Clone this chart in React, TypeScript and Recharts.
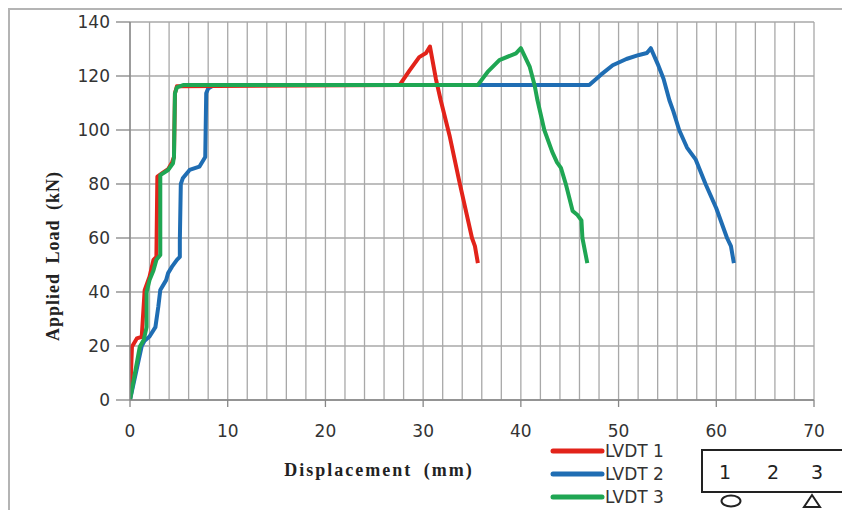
import { LineChart, Line, XAxis, YAxis, CartesianGrid } from "recharts";

// tick values
const xTicks = [
  0, 2, 4, 6, 8, 10, 12, 14, 16, 18, 20, 22, 24, 26, 28, 30, 32, 34, 36, 38, 40,
  42, 44, 46, 48, 50, 52, 54, 56, 58, 60, 62, 64, 66, 68, 70,
];
const yTicks = [0, 20, 40, 60, 80, 100, 120, 140];

// LVDT 1 (red)
const lvdt1Disp = [
  0, 0.2, 0.7, 1.2, 1.5, 2.0, 2.4, 2.7, 2.8, 3.3, 3.9, 4.3, 4.5, 4.6, 4.8, 27.6,
  28.6, 29.6, 30.3, 30.7, 31.3, 31.8, 32.7, 33.7, 35.0, 35.3, 35.6,
];
const lvdt1Load = [
  0, 19.7, 22.8, 23.4, 40.7, 45.7, 51.9, 53, 82.7, 84, 85.5, 88, 90, 113.6, 116.2,
  116.7, 122, 127, 128.5, 130.9, 119, 111, 98, 81, 60, 57, 50.7,
];

// LVDT 2 (blue)
const lvdt2Disp = [
  0, 1.2, 1.5, 2.0, 2.6, 2.9, 3.1, 3.7, 3.9, 4.3, 4.8, 5.1, 5.1, 5.2, 5.4, 6.1,
  7.1, 7.7, 7.8, 8.0, 8.6, 47.0, 48.2, 49.4, 50.8, 52.1, 52.9, 53.3, 54.0, 54.6,
  55.2, 55.6, 56.2, 57.0, 57.9, 58.9, 60.0, 61.1, 61.5, 61.8,
];
const lvdt2Load = [
  0, 20, 22, 23.5, 27, 34.6, 40.7, 44.4, 47, 49.4, 51.9, 53, 59, 80, 82.1, 85.2,
  86.4, 90, 113.6, 115.4, 116.7, 116.7, 120.5, 124, 126.3, 127.8, 128.5, 130.3,
  124.5, 119, 111, 107, 100, 93.5, 89, 80, 71, 60, 57, 50.7,
];

// LVDT 3 (green)
const lvdt3Disp = [
  0, 1.0, 1.4, 1.7, 1.7, 2.0, 2.4, 2.7, 3.1, 3.1, 3.9, 4.4, 4.5, 4.6, 4.8, 5.5,
  35.6, 36.6, 37.8, 39.5, 40.0, 40.9, 41.4, 41.7, 42.4, 43.2, 43.7, 44.1, 44.6,
  45.3, 45.8, 46.2, 46.3, 46.8,
];
const lvdt3Load = [
  0, 19.7, 22.2, 27, 40, 44.4, 48, 51.9, 53.7, 83.3, 85.2, 87.7, 90, 113.6, 115.8,
  116.7, 116.7, 121.5, 125.9, 128.4, 130.3, 123.5, 116.7, 111, 100, 92, 88, 86,
  80, 70, 68.5, 66.5, 60, 50.7,
];

const series = [
  { name: "LVDT 1", color: "#e2231a", disp: lvdt1Disp, load: lvdt1Load },
  { name: "LVDT 2", color: "#1f6db3", disp: lvdt2Disp, load: lvdt2Load },
  { name: "LVDT 3", color: "#1fa653", disp: lvdt3Disp, load: lvdt3Load },
];

// blue first, then red, green on top
const drawOrder = [1, 0, 2];

const toPoints = (disp: number[], load: number[]) =>
  disp.map((x, i) => ({ x, y: load[i] }));

const axisGray = "#868686";
const font = "'DejaVu Sans', sans-serif";

function XTick(props: any) {
  const { x, y, payload } = props;
  const v = payload.value;
  if (v % 10 !== 0) return <g />;
  return (
    <g>
      <line x1={x} y1={y - 7} x2={x} y2={y} stroke={axisGray} strokeWidth={1.3} />
      <text x={x} y={y + 30} textAnchor="middle" fontSize={17} fill="#333" fontFamily={font}>
        {v}
      </text>
    </g>
  );
}

export default function App() {
  return (
    <div style={{ position: "relative", width: 842, height: 502 }}>
      <div
        style={{
          position: "absolute",
          left: 0,
          top: 0,
          width: 840,
          height: 500,
          borderLeft: "2px solid #b4b4b4",
          borderTop: "2px solid #b4b4b4",
        }}
      />
      <div style={{ position: "absolute", left: 0, top: 0 }}>
        <LineChart width={842} height={502} margin={{ top: 14, right: 36, bottom: 70, left: 0 }}>
          <CartesianGrid stroke="#a8a8a8" strokeWidth={1.3} />
          <XAxis
            type="number"
            dataKey="x"
            domain={[0, 70]}
            ticks={xTicks}
            interval={0}
            height={40}
            tickSize={7}
            tickMargin={0}
            tickLine={false}
            tick={<XTick />}
            stroke={axisGray}
            strokeWidth={1.3}
            allowDataOverflow
          />
          <YAxis
            type="number"
            dataKey="y"
            domain={[0, 140]}
            ticks={yTicks}
            interval={0}
            width={122}
            tickSize={14}
            tickMargin={6}
            stroke={axisGray}
            strokeWidth={1.3}
            tick={{ fill: "#333", fontSize: 17, fontFamily: font }}
            allowDataOverflow
          />
          {drawOrder.map((i) => {
            const s = series[i];
            return (
              <Line
                key={s.name}
                name={s.name}
                data={toPoints(s.disp, s.load)}
                dataKey="y"
                type="linear"
                stroke={s.color}
                strokeWidth={4}
                strokeLinejoin="round"
                dot={false}
                activeDot={false}
                isAnimationActive={false}
              />
            );
          })}
        </LineChart>
      </div>

      <svg
        width={842}
        height={502}
        style={{ position: "absolute", left: 0, top: 0, pointerEvents: "none" }}
      >
        <text
          transform="translate(45,248) rotate(-90)"
          textAnchor="middle"
          dominantBaseline="central"
          fontFamily="'Liberation Serif', 'Times New Roman', serif"
          fontWeight="bold"
          fontSize={18}
          letterSpacing={1}
          wordSpacing={4}
          fill="#222"
        >
          Applied Load (kN)
        </text>
        <text
          x={371}
          y={462}
          textAnchor="middle"
          dominantBaseline="central"
          fontFamily="'Liberation Serif', 'Times New Roman', serif"
          fontWeight="bold"
          fontSize={18}
          letterSpacing={2}
          wordSpacing={5}
          fill="#222"
        >
          Displacement (mm)
        </text>

        {series.map((s, i) => (
          <g key={s.name}>
            <line
              x1={545}
              x2={594}
              y1={443 + i * 23}
              y2={443 + i * 23}
              stroke={s.color}
              strokeWidth={5}
              strokeLinecap="round"
            />
            <text
              x={597}
              y={443 + i * 23}
              dominantBaseline="central"
              fontFamily={font}
              fontSize={17}
              fill="#333"
            >
              {s.name}
            </text>
          </g>
        ))}

        <rect x={694} y={442} width={145} height={42} fill="#fff" stroke="#222" strokeWidth={2} />
        {["1", "2", "3"].map((t, i) => (
          <text
            key={t}
            x={[717, 765, 809][i]}
            y={464}
            textAnchor="middle"
            dominantBaseline="central"
            fontFamily={font}
            fontSize={19}
            fill="#222"
          >
            {t}
          </text>
        ))}
        <ellipse cx={723} cy={493} rx={9.5} ry={5.5} fill="none" stroke="#222" strokeWidth={2} />
        <polygon points="804,487 796,499 812,499" fill="none" stroke="#222" strokeWidth={2} />
      </svg>
    </div>
  );
}
